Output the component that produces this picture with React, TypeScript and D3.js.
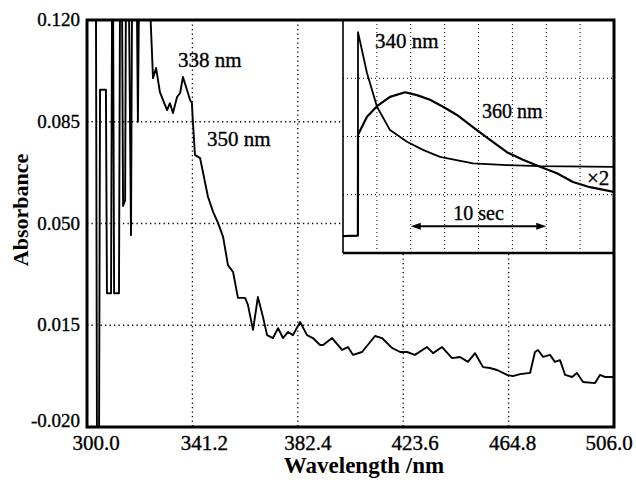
import React from 'react';
import * as d3 from 'd3';

// Main spectrum (wavelength in nm, absorbance); values beyond the axis range are clipped
const wavelength = [
  300.4, 303.5, 303.9, 304.7, 305.1, 307.4, 307.8, 309.4, 309.8, 310.2, 310.6, 312.5, 312.9, 313.7,
  314.1, 314.9, 315.2, 316.4, 317.2, 317.6, 319.5, 319.9, 320.3, 324.6,
  325.8, 327.0, 328.5, 329.7, 331.3, 332.4, 333.6, 335.2, 336.4, 337.5, 339.1, 340.3, 341.0, 341.4,
  342.2, 344.2, 345.0, 347.3, 349.3, 351.2, 353.2, 355.1, 357.1, 359.0, 361.8, 362.9, 364.9, 366.8,
  368.8, 370.4, 372.7, 374.7, 376.6, 378.6, 380.5, 383.3, 386.0, 388.3, 391.1, 392.3, 395.8, 399.7,
  402.0, 404.0, 407.5, 412.6, 415.3, 419.2, 422.4, 425.1, 428.2, 432.9, 435.3, 438.8, 442.7, 445.8,
  448.9, 451.7, 454.8, 457.5, 460.3, 464.2, 466.5, 469.3, 473.2, 475.1, 476.3, 478.3, 481.0, 482.9,
  484.9, 486.9, 489.6, 491.5, 493.9, 498.6, 500.5, 502.5, 505.6,
];
const absorbance = [
  0.126, 0.126, -0.026, -0.026, 0.096, 0.096, 0.026, 0.026, 0.126, 0.126, 0.026, 0.026, 0.126, 0.126,
  0.056, 0.058, 0.126, 0.126, 0.046, 0.126, 0.126, 0.085, 0.126, 0.126,
  0.1, 0.1035, 0.0952, 0.0925, 0.089, 0.0914, 0.088, 0.0935, 0.0949, 0.1004, 0.0959, 0.0925, 0.0914, 0.0849,
  0.0736, 0.0725, 0.0691, 0.0591, 0.054, 0.0502, 0.0454, 0.0357, 0.0333, 0.0244, 0.0244, 0.022, 0.0134, 0.0247,
  0.0178, 0.0116, 0.0106, 0.014, 0.0106, 0.0127, 0.0116, 0.0161, 0.0116, 0.0106, 0.0082, 0.0082, 0.0106, 0.0065,
  0.0075, 0.0048, 0.0058, 0.0113, 0.0106, 0.0072, 0.0058, 0.0058, 0.0048, 0.0075, 0.0054, 0.0075, 0.0037, 0.0041,
  0.0024, 0.0054, 0.0006, 0.0003, -0.0004, -0.0021, -0.0025, -0.0018, -0.0014, 0.0058, 0.0065, 0.0041, 0.0048, 0.0024,
  0.003, -0.0021, -0.0028, -0.0014, -0.0045, -0.0049, -0.0021, -0.0028, -0.0028,
];

const xTicks = [300.0, 341.2, 382.4, 423.6, 464.8, 506.0];
const yTicks = [-0.02, 0.015, 0.05, 0.085, 0.12];

// Inset kinetics (time in s, arbitrary signal in grid units)
const time340 = [0, 1.1, 1.107, 1.77, 2.51, 3.47, 4.72, 5.9, 7.16, 9.59, 12.1, 14.54, 20];
const signal340 = [0.29, 0.3, 3.79, 3.09, 2.51, 2.11, 1.91, 1.77, 1.65, 1.54, 1.51, 1.49, 1.48];
const time360 = [0, 1.1, 1.107, 1.77, 2.51, 3.47, 4.58, 5.46, 6.42, 7.38, 8.41, 9.59, 10.85, 12.1, 13.28, 14.54, 15.79, 16.97, 18.23, 20];
const signal360 = [0.29, 0.3, 2.03, 2.34, 2.52, 2.68, 2.76, 2.71, 2.63, 2.51, 2.37, 2.16, 1.94, 1.73, 1.6, 1.48, 1.37, 1.22, 1.13, 1.05];
const insetXTicks = [2.5, 5, 7.5, 10, 12.5, 15, 17.5];
const insetYTicks = [1, 2, 3];

const FONT = "'Liberation Serif'";

export default function App() {
  const W = 636, H = 483;
  const L = 87, R = 614, T = 20, B = 427;
  const x = d3.scaleLinear().domain([300, 506]).range([L, R]);
  const y = d3.scaleLinear().domain([-0.02, 0.12]).range([B, T]);

  const IL = 343, IR = 614, IT = 20, IB = 253;
  const ix = d3.scaleLinear().domain([0, 20]).range([IL, IR]);
  const iy = d3.scaleLinear().domain([0, 4]).range([IB, IT]);

  const mainLine = d3.line<number>()
    .x((_, i) => x(wavelength[i]))
    .y((_, i) => y(absorbance[i]));
  const line340 = d3.line<number>().x((_, i) => ix(time340[i])).y((_, i) => iy(signal340[i]));
  const line360 = d3.line<number>().x((_, i) => ix(time360[i])).y((_, i) => iy(signal360[i]));

  const tickDx = [9, 12, 10, 12, 4, -5];
  const dot = '1.3,3.2';
  const arrowY = iy(0.46);
  const a0 = ix(5), a1 = ix(15);
  const ts: React.CSSProperties = { fontFamily: FONT };
  const tw = { stroke: '#000', strokeWidth: 0.35 };

  return (
    <svg width={W} height={H} style={{ position: 'absolute', left: 0, top: 0, background: '#fff' }}>
      <defs>
        <clipPath id="plotClip"><rect x={L} y={T} width={R - L} height={B - T} /></clipPath>
        <clipPath id="insetClip"><rect x={IL} y={IT} width={IR - IL} height={IB - IT} /></clipPath>
      </defs>
      <rect x={0} y={0} width={W} height={H} fill="#fff" />
      {/* main grid */}
      {xTicks.slice(1, -1).map(t => (
        <line key={'gx' + t} x1={x(t)} x2={x(t)} y1={T} y2={B} stroke="#000" strokeWidth={1.3} strokeDasharray={dot} />
      ))}
      {yTicks.slice(1, -1).map(t => (
        <line key={'gy' + t} x1={L} x2={R} y1={y(t)} y2={y(t)} stroke="#000" strokeWidth={1.3} strokeDasharray={dot} />
      ))}
      <path d={mainLine(wavelength) || ''} fill="none" stroke="#000" strokeWidth={1.9}
        strokeLinejoin="round" clipPath="url(#plotClip)" />

      {/* inset */}
      <rect x={IL} y={IT} width={IR - IL} height={IB - IT} fill="#fff" />
      <g clipPath="url(#insetClip)">
        {insetXTicks.map(t => (
          <line key={'ix' + t} x1={ix(t)} x2={ix(t)} y1={IT} y2={IB} stroke="#000" strokeWidth={1} strokeDasharray="1,3" />
        ))}
        {insetYTicks.map(t => (
          <line key={'iy' + t} x1={IL} x2={IR} y1={iy(t)} y2={iy(t)} stroke="#000" strokeWidth={1} strokeDasharray="1,3" />
        ))}
        <path d={line360(time360) || ''} fill="none" stroke="#000" strokeWidth={2.2} strokeLinejoin="round" />
        <path d={line340(time340) || ''} fill="none" stroke="#000" strokeWidth={1.8} strokeLinejoin="round" />
      </g>
      <line x1={IL} x2={IL} y1={IT} y2={IB} stroke="#000" strokeWidth={1.6} />
      <line x1={IL} x2={IR} y1={IB} y2={IB} stroke="#000" strokeWidth={2.6} />
      {/* 10 sec arrow */}
      <line x1={a0 + 6} x2={a1 - 6} y1={arrowY} y2={arrowY} stroke="#000" strokeWidth={2} />
      <polygon points={`${a0},${arrowY} ${a0 + 10},${arrowY - 3.5} ${a0 + 10},${arrowY + 3.5}`} fill="#000" />
      <polygon points={`${a1},${arrowY} ${a1 - 10},${arrowY - 3.5} ${a1 - 10},${arrowY + 3.5}`} fill="#000" />
      <text style={ts} {...tw} x={ix(10)} y={220} fontSize={20} textAnchor="middle">10 sec</text>
      <text style={ts} {...tw} x={375} y={48} fontSize={21}>340 nm</text>
      <text style={ts} {...tw} x={482} y={118} fontSize={20}>360 nm</text>
      <text style={ts} {...tw} x={587} y={185} fontSize={21}>×2</text>

      {/* main frame */}
      <rect x={L} y={T} width={R - L} height={B - T} fill="none" stroke="#000" strokeWidth={3} />

      {/* annotations */}
      <text style={ts} {...tw} x={178} y={67} fontSize={21}>338 nm</text>
      <text style={ts} {...tw} x={207} y={146} fontSize={21}>350 nm</text>

      {/* ticks */}
      {xTicks.map((t, i) => (
        <text style={ts} {...tw} key={'xt' + t} x={x(t) + tickDx[i]} y={450} fontSize={21} textAnchor="middle">{t.toFixed(1)}</text>
      ))}
      {yTicks.map(t => (
        <text style={ts} {...tw} key={'yt' + t} x={80} y={Math.min(y(t), 421) + 6} fontSize={19} textAnchor="end">{t.toFixed(3)}</text>
      ))}
      <text style={ts} x={364} y={473} fontSize={23} fontWeight="bold" textAnchor="middle">Wavelength /nm</text>
      <text style={ts} transform={`translate(28,210) rotate(-90)`} fontSize={22} fontWeight="bold" textAnchor="middle">Absorbance</text>
    </svg>
  );
}
